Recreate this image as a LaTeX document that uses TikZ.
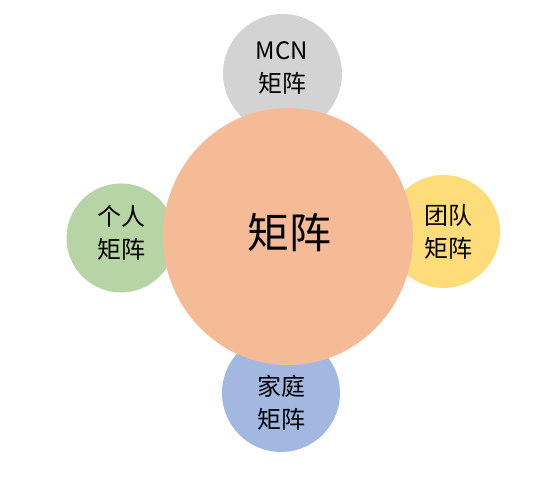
\documentclass[tikz,border=0pt]{standalone}
\usepackage{fontspec}
\setmainfont{Noto Sans CJK SC}
\usetikzlibrary{shapes.geometric}
\definecolor{mcngray}{HTML}{D3D3D3}
\definecolor{selfgreen}{HTML}{B7D4A4}
\definecolor{teamyellow}{HTML}{FFDC7A}
\definecolor{homeblue}{HTML}{A2B8E0}
\definecolor{corepeach}{HTML}{F5BB96}
\tikzset{
  side/.style={circle, inner sep=0pt, minimum size=#1},
  sidetext/.style={align=center, font=\fontsize{24}{33}\selectfont},
}
\begin{document}
\begin{tikzpicture}[x=1pt, y=-1pt]
\useasboundingbox (0, 0) rectangle (552, 486);
\node[side=119pt, fill=mcngray] (mcn) at (282.5, 73.5) {};
\node[side=109pt, fill=selfgreen] (self) at (121, 238) {};
\node[side=113pt, fill=teamyellow] (team) at (443.5, 231.5) {};
\node[side=118pt, fill=homeblue] (home) at (281, 393) {};

\node[ellipse, inner sep=0pt, minimum width=250pt, minimum height=257pt, fill=corepeach] (core) at (288, 236.5) {};

\node[sidetext] (mcnlabel) at (282, 68) {MCN\\矩阵};
\node[sidetext] (selflabel) at (121, 232.5) {个人\\矩阵};
\node[sidetext] (teamlabel) at (448.5, 232) {团队\\矩阵};
\node[sidetext] (homelabel) at (281, 403) {家庭\\矩阵};
\node[font=\fontsize{42}{42}\selectfont] (corelabel) at (289.5, 232.5) {矩阵};
\end{tikzpicture}
\end{document}
